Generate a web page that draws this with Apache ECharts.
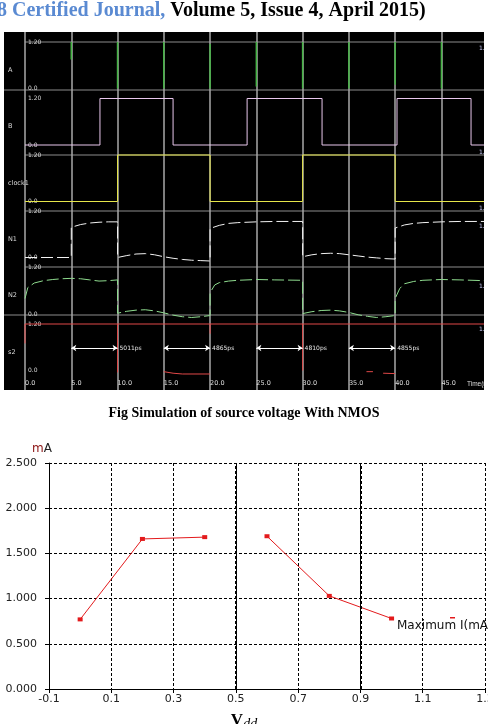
<!DOCTYPE html>
<html>
<head>
<meta charset="utf-8">
<script src="https://cdn.jsdelivr.net/npm/echarts@6/dist/echarts.min.js"></script>
<style>
  html, body { margin: 0; padding: 0; background: #fff; }
  #chart { width: 488px; height: 724px; }
</style>
</head>
<body>
<div id="chart"></div>
<script>
// ---- waveform panel (time in ns, level in V) ----
const GAP = ['-', '-']
const rowNames = ['A', 'B', 'clock1', 'N1', 'N2', 's2']
const rowColors = ['#46b446', '#e8c6ec', '#e6e64a', '#f2f2f2', '#8fdc8f', '#e04848']

const sigA = [
  [5, 1.2], [5, 0.75], GAP, [10, 1.2], [10, 0], GAP, [15, 1.2], [15, 0], GAP,
  [20, 1.15], [20, 0], GAP, [25, 1.2], [25, 0.05], GAP, [30, 1.2], [30, 0], GAP,
  [35, 1.2], [35, 0], GAP, [40, 1.2], [40, 0.1], GAP, [45, 1.2], [45, 0]
]
const sigB = [
  [0, 0], [8.1, 0], [8.1, 1.2], [16, 1.2], [16, 0], [24, 0], [24, 1.2], [32.1, 1.2],
  [32.1, 0], [40.2, 0], [40.2, 1.2], [48.2, 1.2], [48.2, 0], [49.6, 0]
]
const clock1 = [
  [0, 0], [10, 0], [10, 1.2], [20, 1.2], [20, 0], [30, 0], [30, 1.2], [40, 1.2], [40, 0], [49.6, 0]
]
const n1 = [
  [0, 0], [5, 0], [5, 0.78], [6, 0.85], [7, 0.89], [8, 0.91], [9, 0.92], [10, 0.92],
  [10, 0], [11, 0.05], [12, 0.09], [13, 0.1], [14, 0.07], [15, 0.02], [16, -0.02], [17, -0.05],
  [18, -0.07], [19, -0.08], [20, -0.09],
  [20, 0.75], [21, 0.83], [22, 0.88], [23, 0.9], [25, 0.92], [27, 0.93], [30, 0.93],
  [30, 0.02], [31, 0.07], [32, 0.1], [33, 0.11], [34, 0.1], [35, 0.07], [36, 0.04], [37, 0.01],
  [38, -0.01], [39, -0.03], [40, -0.04],
  [40, 0.76], [41, 0.84], [42, 0.88], [43, 0.9], [45, 0.92], [47, 0.93], [49.6, 0.93]
]
const n2 = [
  [0, 0.4], [0.3, 0.68], [1, 0.8], [2, 0.86], [3, 0.89], [4, 0.91], [5, 0.92], [6, 0.91],
  [7, 0.88], [8, 0.85], [9, 0.86], [10, 0.88],
  [10, 0.02], [11, 0.07], [12, 0.1], [13, 0.11], [14, 0.08], [15, 0.03], [16, -0.03], [17, -0.07],
  [18, -0.09], [19, -0.07], [20, -0.04],
  [20, 0.55], [20.5, 0.75], [21, 0.81], [22, 0.85], [23, 0.87], [25, 0.89], [27, 0.88], [30, 0.87],
  [30, 0.01], [31, 0.06], [32, 0.09], [33, 0.1], [34, 0.08], [35, 0.04], [36, -0.02], [37, -0.06],
  [38, -0.09], [39, -0.07], [40, -0.04],
  [40, 0.4], [40.5, 0.66], [41, 0.78], [42, 0.84], [43, 0.87], [45, 0.89], [47, 0.88], [49.6, 0.86]
]
const s2 = [
  [0, 0.7], [0, 1.2], [49.6, 1.2], GAP, [10, 1.2], [10, -0.05], GAP,
  [15, -0.03], [16, -0.07], [17, -0.09], [20, -0.09], GAP, [20, 1.2], [20, 0.95], GAP,
  [30, 1.2], [30, 0], GAP, [36.9, -0.03], [37.6, -0.03], GAP, [38.7, -0.07], [40, -0.08]
]
const signals = [sigA, sigB, clock1, n1, n2, s2]

const measSpans = [[5, 10], [15, 20], [25, 30], [35, 40]]
const measLabels = ['5011ps', '4865ps', '4810ps', '4855ps']
const measLevel = 0.58

// ---- I-V chart ----
const vdd = [0, 0.2, 0.4, 0.5, 0.6, 0.8, 1.0]
const maxI = [0.77, 1.66, 1.68, '-', 1.69, 1.03, 0.78]
const boldLines = [0.5, 0.9]

const rowTop = [42, 98.5, 155, 211, 267.5, 324]
const rowH = 46.5
const small = '"DejaVu Sans", sans-serif'

const grids = [{ left: 25, right: 4, top: 32, bottom: 334, outerBoundsMode: 'none' }]
const xAxes = [{
  gridIndex: 0, type: 'value', min: 0, max: 49.6, interval: 5,
  axisLine: { show: false }, axisTick: { show: false },
  splitLine: { show: true, showMaxLine: false, lineStyle: { color: '#a8a8a8', width: 1.5 } },
  axisLabel: {
    inside: true, align: 'left', margin: 3, color: '#dcdcdc', fontSize: 6.5, fontFamily: small,
    formatter: v => (v % 5 === 0 && v < 49 ? v.toFixed(1) : '')
  }
}]
const yAxes = [{ gridIndex: 0, type: 'value', min: 0, max: 1, show: false }]
const series = []
const rowLabels = []

rowNames.forEach((name, i) => {
  const gi = i + 1
  grids.push({ left: 25, right: 4, top: rowTop[i], height: rowH, outerBoundsMode: 'none' })
  xAxes.push({ gridIndex: gi, type: 'value', min: 0, max: 49.6, show: false })
  yAxes.push({
    gridIndex: gi, type: 'value', min: 0, max: 1.2, interval: 1.2,
    axisLine: { show: false }, axisTick: { show: false }, splitLine: { show: false },
    axisLabel: {
      inside: true, margin: 3, color: '#d8d8d8', fontSize: 6, fontFamily: small,
      formatter: v => (v === 0 ? '0.0' : '1.20')
    }
  })
  rowLabels.push({
    type: 'text', z: 5,
    style: {
      text: name, x: 8, y: rowTop[i] + rowH / 2 + 5, fill: '#d8d8d8', font: '6.5px "DejaVu Sans"',
      verticalAlign: 'middle', textVerticalAlign: 'middle'
    }
  })
  const s = {
    type: 'line', name, xAxisIndex: gi, yAxisIndex: gi, data: signals[i],
    showSymbol: false, clip: false, silent: true,
    lineStyle: { color: rowColors[i], width: i === 0 ? 1.5 : 1, type: (i === 3 || i === 4) ? [12, 4] : 'solid' }
  }
  if (name === 's2') {
    s.markLine = {
      silent: true, symbol: ['arrow', 'arrow'], symbolSize: 5,
      lineStyle: { color: '#fff', width: 1.2, type: 'solid' },
      label: {
        show: true, position: 'end', distance: 2, formatter: '{b}',
        color: '#e8e8e8', fontSize: 6, fontFamily: small, padding: [9, 0, 0, 0]
      },
      data: measSpans.map((sp, k) => [
        { name: measLabels[k], coord: [sp[0], measLevel] },
        { coord: [sp[1], measLevel] }
      ])
    }
  }
  series.push(s)
})

// I-V grid
grids.push({ left: 49, right: 3, top: 463, bottom: 35, outerBoundsMode: 'none' })
xAxes.push({
  gridIndex: 7, type: 'value', min: -0.1, max: 1.3, interval: 0.2,
  axisLine: { onZero: false, lineStyle: { color: '#000', width: 1 } },
  axisTick: { length: 4, lineStyle: { color: '#000' } },
  splitLine: { show: true, lineStyle: { color: '#000', width: 1, type: [3, 2] } },
  axisLabel: { color: '#222', fontSize: 11, fontFamily: small, margin: 5, formatter: v => v.toFixed(1) },
  name: '{v|V}{s|dd}', nameLocation: 'middle', nameGap: 22,
  nameTextStyle: {
    padding: [0, 46, 0, 0],
    rich: {
      v: { fontFamily: '"Liberation Serif", serif', fontWeight: 'bold', fontSize: 17, color: '#000' },
      s: { fontFamily: '"Liberation Serif", serif', fontStyle: 'italic', fontSize: 14, color: '#000', padding: [6, 0, 0, 0] }
    }
  }
})
yAxes.push({
  gridIndex: 7, type: 'value', min: 0, max: 2.5, interval: 0.5,
  axisLine: { show: true, onZero: false, lineStyle: { color: '#000', width: 1 } },
  axisTick: { show: true, length: 4, lineStyle: { color: '#000' } },
  splitLine: { show: true, lineStyle: { color: '#000', width: 1, type: [3, 2] } },
  axisLabel: { color: '#222', fontSize: 11, fontFamily: small, margin: 12, formatter: v => v.toFixed(3) },
  name: '{m|m}{a|A}', nameLocation: 'end', nameGap: 8,
  nameTextStyle: {
    align: 'center', padding: [0, 14, 0, 0],
    rich: {
      m: { color: '#8b1010', fontSize: 12, fontFamily: small },
      a: { color: '#222', fontSize: 12, fontFamily: small }
    }
  }
})
series.push({
  type: 'line', name: 'Maximum I(mA)', xAxisIndex: 7, yAxisIndex: 7,
  data: vdd.map((v, i) => [v, maxI[i]]),
  symbol: 'rect', symbolSize: [5, 4], showSymbol: true, connectNulls: false,
  itemStyle: { color: '#e31a1c' }, lineStyle: { color: '#e31a1c', width: 1 },
  markLine: {
    silent: true, symbol: 'none', label: { show: false },
    lineStyle: { color: '#000', width: 2, type: [3, 2] },
    data: boldLines.map(x => ({ xAxis: x }))
  }
})

const sepLines = [[42, 25], [90, 4], [155, 25], [211, 25], [267, 25], [315, 4]]
const rightTxt = [['1.2', 48], ['1.0', 152], ['1.0', 208], ['1.0', 226], ['1.0', 286], ['1.2', 329]]

const graphic = [
  { type: 'rect', z: -10, shape: { x: 4, y: 32, width: 480, height: 358 }, style: { fill: '#000' } },
  ...sepLines.map(([y, x0]) => ({
    type: 'line', z: -5, shape: { x1: x0, y1: y, x2: 484, y2: y }, style: { stroke: '#8c8c8c', lineWidth: 1 }
  })),
  ...rowLabels,
  ...rightTxt.map(([t, y]) => ({
    type: 'text', z: 5,
    style: { text: t, x: 479, y, fill: '#c4c6f2', font: '6px "DejaVu Sans"', verticalAlign: 'middle', textVerticalAlign: 'middle' }
  })),
  {
    type: 'text', z: 5,
    style: { text: 'Time(ns)', x: 467, y: 384, fill: '#dcdcdc', font: '6.5px "Liberation Sans"', verticalAlign: 'middle', textVerticalAlign: 'middle' }
  },
  { type: 'rect', z: 50, shape: { x: 484, y: 28, width: 6, height: 366 }, style: { fill: '#fff' } },
  {
    type: 'text', z: 5,
    style: {
      text: '{b|8 Certified Journal, }{k|Volume 5, Issue 4, April 2015)}',
      x: -3, y: 11, verticalAlign: 'middle', textVerticalAlign: 'middle',
      rich: {
        b: { fill: '#5a8ad2', color: '#5a8ad2', fontFamily: '"Liberation Serif", serif', fontWeight: 'bold', fontSize: 20 },
        k: { fill: '#000', color: '#000', fontFamily: '"Liberation Serif", serif', fontWeight: 'bold', fontSize: 20 }
      }
    }
  },
  {
    type: 'text', z: 5,
    style: {
      text: 'Fig Simulation of source voltage With NMOS', x: 244, y: 413,
      align: 'center', textAlign: 'center', verticalAlign: 'middle', textVerticalAlign: 'middle',
      fill: '#000', font: 'bold 14px "Liberation Serif", serif'
    }
  },
  {
    type: 'text', z: 5,
    style: {
      text: 'Maximum I(mA)', x: 397, y: 626, verticalAlign: 'middle', textVerticalAlign: 'middle',
      fill: '#111', font: '12px "DejaVu Sans", sans-serif'
    }
  },
  { type: 'rect', z: 5, shape: { x: 450, y: 617, width: 5, height: 1.5 }, style: { fill: '#e31a1c' } }
]

const chart = echarts.init(document.getElementById('chart'))
chart.setOption({
  animation: false,
  backgroundColor: '#fff',
  grid: grids,
  xAxis: xAxes,
  yAxis: yAxes,
  series,
  graphic
})
</script>
</body>
</html>
